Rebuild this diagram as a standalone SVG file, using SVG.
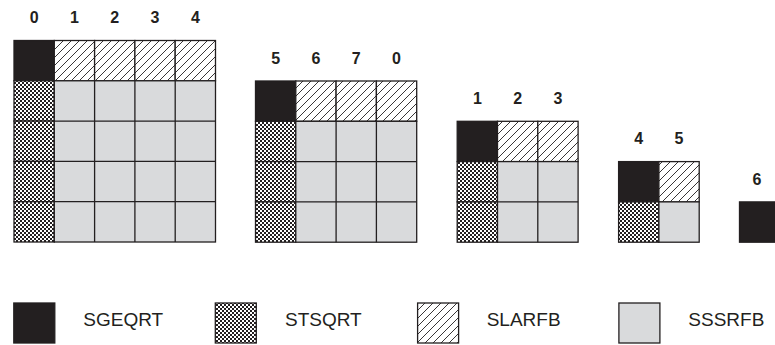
<svg xmlns="http://www.w3.org/2000/svg" width="775" height="345" viewBox="0 0 775 345">
<style>
.lbl{font-family:"Liberation Sans",Arial,sans-serif;font-weight:bold;font-size:16px;fill:#231f20;text-anchor:middle}
.leg{font-family:"Liberation Sans",Arial,sans-serif;font-size:19px;fill:#231f20}
.c{stroke:#231f20;stroke-width:1.3}
.g{fill:#d9dadc}
.k{fill:#231f20}
.h{fill:url(#hatch)}
.x{fill:url(#check)}
</style>
<defs>
<pattern id="hatch" patternUnits="userSpaceOnUse" width="8" height="8">
<rect width="8" height="8" fill="#fff"/>
<path d="M-1,9 L9,-1 M-1,1 L1,-1 M7,9 L9,7" stroke="#231f20" stroke-width="0.9"/>
</pattern>
<pattern id="check" patternUnits="userSpaceOnUse" width="4" height="4">
<rect width="4" height="4" fill="#fff"/>
<rect width="2" height="2" fill="#231f20"/>
<rect x="2" y="2" width="2" height="2" fill="#231f20"/>
</pattern>
</defs>

<g id="matrix1">
<g class="c">
<rect class="k" x="14" y="40.5" width="40.3" height="40.3"/>
<rect class="h" x="54.3" y="40.5" width="40.3" height="40.3"/>
<rect class="h" x="94.6" y="40.5" width="40.3" height="40.3"/>
<rect class="h" x="134.9" y="40.5" width="40.3" height="40.3"/>
<rect class="h" x="175.2" y="40.5" width="40.3" height="40.3"/>
<rect class="x" x="14" y="80.8" width="40.3" height="40.3"/>
<rect class="x" x="14" y="121.1" width="40.3" height="40.3"/>
<rect class="x" x="14" y="161.4" width="40.3" height="40.3"/>
<rect class="x" x="14" y="201.7" width="40.3" height="40.3"/>
<rect class="g" x="54.3" y="80.8" width="161.2" height="161.2"/>
<path d="M94.6,80.8V242M134.9,80.8V242M175.2,80.8V242M54.3,121.1H215.5M54.3,161.4H215.5M54.3,201.7H215.5" fill="none"/>
</g>
<text class="lbl" x="34.15" y="23">0</text>
<text class="lbl" x="74.45" y="23">1</text>
<text class="lbl" x="114.75" y="23">2</text>
<text class="lbl" x="155.05" y="23">3</text>
<text class="lbl" x="195.35" y="23">4</text>
</g>

<g id="matrix2">
<g class="c">
<rect class="k" x="255.5" y="81" width="40.3" height="40.3"/>
<rect class="h" x="295.8" y="81" width="40.3" height="40.3"/>
<rect class="h" x="336.1" y="81" width="40.3" height="40.3"/>
<rect class="h" x="376.4" y="81" width="40.3" height="40.3"/>
<rect class="x" x="255.5" y="121.3" width="40.3" height="40.3"/>
<rect class="x" x="255.5" y="161.6" width="40.3" height="40.3"/>
<rect class="x" x="255.5" y="201.9" width="40.3" height="40.3"/>
<rect class="g" x="295.8" y="121.3" width="120.9" height="120.9"/>
<path d="M336.1,121.3V242.2M376.4,121.3V242.2M295.8,161.6H416.7M295.8,201.9H416.7" fill="none"/>
</g>
<text class="lbl" x="275.65" y="63.5">5</text>
<text class="lbl" x="315.95" y="63.5">6</text>
<text class="lbl" x="356.25" y="63.5">7</text>
<text class="lbl" x="396.55" y="63.5">0</text>
</g>

<g id="matrix3">
<g class="c">
<rect class="k" x="457.2" y="121.3" width="40.3" height="40.3"/>
<rect class="h" x="497.5" y="121.3" width="40.3" height="40.3"/>
<rect class="h" x="537.8" y="121.3" width="40.3" height="40.3"/>
<rect class="x" x="457.2" y="161.6" width="40.3" height="40.3"/>
<rect class="x" x="457.2" y="201.9" width="40.3" height="40.3"/>
<rect class="g" x="497.5" y="161.6" width="80.6" height="80.6"/>
<path d="M537.8,161.6V242.2M497.5,201.9H578.1" fill="none"/>
</g>
<text class="lbl" x="477.35" y="103.8">1</text>
<text class="lbl" x="517.65" y="103.8">2</text>
<text class="lbl" x="557.95" y="103.8">3</text>
</g>

<g id="matrix4">
<g class="c">
<rect class="k" x="618.6" y="161.6" width="40.3" height="40.3"/>
<rect class="h" x="658.9" y="161.6" width="40.3" height="40.3"/>
<rect class="x" x="618.6" y="201.9" width="40.3" height="40.3"/>
<rect class="g" x="658.9" y="201.9" width="40.3" height="40.3"/>
</g>
<text class="lbl" x="638.75" y="144">4</text>
<text class="lbl" x="679.05" y="144">5</text>
</g>

<g id="matrix5">
<rect class="k c" x="739.5" y="201.9" width="40.3" height="40.3"/>
<text class="lbl" x="757" y="184.5">6</text>
</g>

<g id="legend">
<g id="leg-sgeqrt">
<rect class="k c" x="13.8" y="303" width="41" height="40"/>
<text class="leg" x="83.3" y="325.7">SGEQRT</text>
</g>
<g id="leg-stsqrt">
<rect class="x c" x="215.3" y="303" width="41" height="40"/>
<text class="leg" x="285" y="325.7">STSQRT</text>
</g>
<g id="leg-slarfb">
<rect class="h c" x="417.6" y="303" width="41" height="40"/>
<text class="leg" x="486.7" y="325.7">SLARFB</text>
</g>
<g id="leg-sssrfb">
<rect class="g c" x="618.9" y="303" width="41" height="40"/>
<text class="leg" x="688.3" y="325.7">SSSRFB</text>
</g>
</g>
</svg>
